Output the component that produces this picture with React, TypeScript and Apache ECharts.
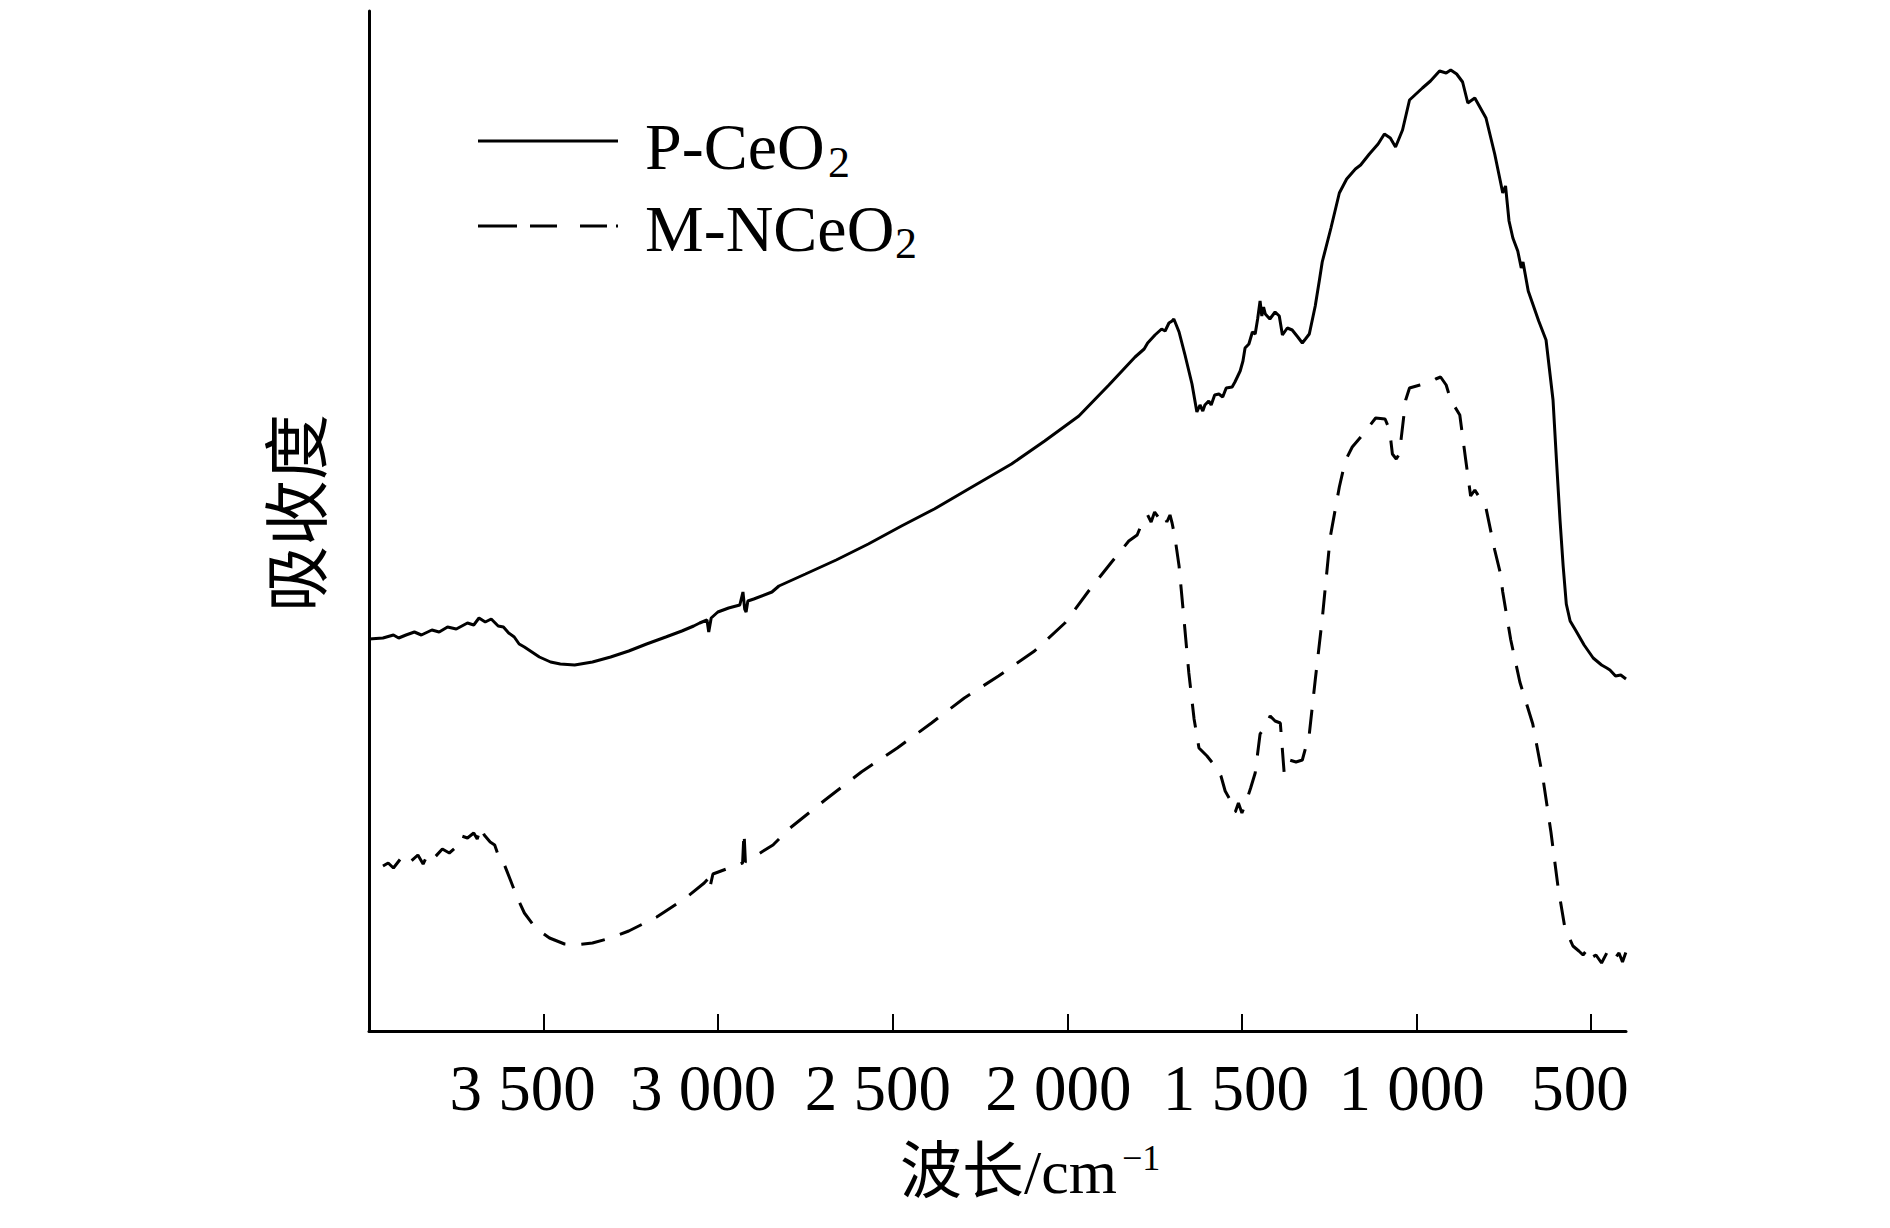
import React, { useEffect, useRef } from "react";
import * as echarts from "echarts";

// x tick values (cm^-1)
const tickValues = [3500, 3000, 2500, 2000, 1500, 1000, 500];

// P-CeO2 : [wavenumber, absorbance (arb.)]
const pCeO2: number[][] = [
  [4000, 39.2], [3960, 39.3], [3930, 39.6], [3915, 39.3], [3894, 39.6], [3870, 39.9], [3850, 39.6],
  [3820, 40.1], [3799, 39.9], [3775, 40.4], [3750, 40.2], [3718, 40.8], [3700, 40.6], [3685, 41.3],
  [3667, 40.9], [3650, 41.2], [3630, 40.5], [3615, 40.4], [3600, 39.8], [3584, 39.4], [3570, 38.7],
  [3555, 38.4], [3512, 37.4], [3480, 36.9], [3452, 36.7], [3411, 36.6], [3360, 36.9], [3308, 37.4],
  [3256, 38.0], [3205, 38.7], [3150, 39.4], [3104, 40.0], [3070, 40.5], [3053, 40.8], [3032, 41.1],
  [3027, 39.9], [3020, 41.3], [3001, 41.9], [2970, 42.3], [2938, 42.6], [2929, 43.9], [2924, 42.2],
  [2920, 41.9], [2915, 43.0], [2898, 43.2], [2846, 43.9], [2826, 44.5], [2750, 45.7], [2662, 47.1],
  [2570, 48.7], [2475, 50.5], [2381, 52.2], [2283, 54.2], [2160, 56.7], [2065, 59.0], [1967, 61.5],
  [1881, 64.6], [1806, 67.4], [1780, 68.2], [1770, 68.8], [1749, 69.6], [1730, 70.2], [1720, 70.0],
  [1709, 70.8], [1700, 71.0], [1695, 71.2], [1688, 70.6], [1680, 69.9], [1663, 67.6], [1643, 64.7],
  [1629, 61.9], [1620, 62.6], [1612, 62.0], [1606, 62.6], [1595, 63.0], [1588, 62.6], [1578, 63.6],
  [1566, 63.7], [1555, 63.4], [1545, 64.3], [1528, 64.4], [1520, 64.9], [1505, 66.0], [1497, 67.0],
  [1491, 68.3], [1480, 68.7], [1470, 69.9], [1462, 69.7], [1455, 71.2], [1448, 73.0], [1443, 71.5],
  [1438, 72.4], [1433, 71.7], [1420, 71.2], [1405, 71.9], [1393, 71.5], [1384, 69.6], [1370, 70.3],
  [1356, 70.1], [1340, 69.4], [1327, 68.8], [1318, 69.2], [1307, 69.7], [1290, 72.5], [1278, 75.1],
  [1270, 76.9], [1245, 80.3], [1221, 83.8], [1200, 85.2], [1175, 86.2], [1160, 86.6], [1135, 87.7],
  [1110, 88.7], [1092, 89.7], [1075, 89.3], [1060, 88.4], [1040, 90.1], [1020, 93.1], [983, 94.3],
  [960, 95.0], [934, 96.0], [915, 95.8], [902, 96.1], [885, 95.7], [868, 94.9], [853, 92.8],
  [833, 93.3], [801, 91.3], [776, 87.7], [760, 85.0], [753, 83.8], [745, 84.5], [735, 81.0],
  [724, 79.3], [710, 78.0], [700, 76.3], [695, 76.9], [680, 74.0], [667, 72.7], [650, 71.0],
  [629, 69.1], [609, 63.1], [599, 57.0], [589, 51.1], [580, 46.5], [571, 42.7], [560, 41.0],
  [543, 40.0], [520, 38.6], [494, 37.3], [470, 36.6], [455, 36.3], [446, 36.1], [430, 35.5],
  [415, 35.6], [400, 35.2],
];

// M-NCeO2 : [wavenumber, absorbance (arb.)]
const mNCeO2: number[][] = [
  [3960, 16.5], [3945, 16.8], [3930, 16.3], [3910, 17.2], [3895, 16.6], [3882, 16.9], [3860, 17.6],
  [3845, 16.7], [3830, 17.8], [3811, 17.4], [3790, 18.2], [3770, 17.8], [3750, 18.4], [3735, 19.5],
  [3718, 19.3], [3700, 19.8], [3690, 19.2], [3680, 20.4], [3670, 19.6], [3653, 18.9], [3640, 18.6],
  [3630, 17.6], [3621, 17.4], [3595, 15.1], [3575, 13.3], [3555, 11.8], [3523, 10.3], [3483, 9.3],
  [3440, 8.7], [3411, 8.6], [3360, 8.8], [3308, 9.3], [3256, 10.0], [3176, 11.4], [3093, 13.3],
  [3040, 14.8], [3027, 15.3], [3024, 14.3], [3015, 15.7], [2961, 16.4], [2930, 16.8], [2926, 19.9],
  [2922, 16.9], [2889, 17.6], [2843, 18.6], [2794, 20.3], [2694, 23.1], [2590, 25.9], [2487, 28.3],
  [2389, 30.8], [2295, 33.3], [2197, 35.5], [2094, 38.0], [2007, 40.8], [1939, 44.0], [1873, 46.9],
  [1824, 49.0], [1800, 49.6], [1786, 50.8], [1770, 51.6], [1760, 50.9], [1750, 51.9], [1738, 51.3],
  [1725, 51.8], [1715, 50.9], [1706, 51.6], [1700, 50.8], [1692, 49.4], [1680, 46.5], [1666, 41.2],
  [1652, 35.8], [1637, 31.2], [1623, 28.3], [1600, 27.5], [1577, 26.5], [1560, 25.5], [1548, 24.0],
  [1535, 23.2], [1525, 22.0], [1519, 21.9], [1510, 22.8], [1500, 21.8], [1491, 22.6], [1475, 24.3],
  [1462, 25.8], [1448, 29.7], [1435, 30.4], [1419, 31.5], [1405, 31.0], [1390, 30.8], [1379, 25.8],
  [1364, 27.1], [1345, 26.9], [1327, 27.1], [1307, 29.7], [1290, 35.1], [1270, 41.2], [1247, 49.4],
  [1221, 54.4], [1204, 57.0], [1184, 58.4], [1150, 59.8], [1117, 61.3], [1090, 61.2], [1077, 60.1],
  [1069, 57.7], [1058, 57.2], [1049, 57.7], [1031, 63.1], [1020, 64.3], [990, 64.6], [960, 64.9],
  [945, 65.2], [931, 65.4], [915, 64.6], [902, 63.1], [876, 61.6], [859, 57.1], [845, 53.5],
  [833, 54.1], [801, 52.3], [776, 48.1], [760, 45.8], [753, 43.9], [730, 39.1], [704, 34.9],
  [667, 30.7], [638, 25.3], [615, 19.9], [595, 14.5], [575, 10.3], [552, 8.5], [535, 8.0],
  [523, 7.6], [510, 8.2], [500, 7.3], [486, 7.6], [470, 6.8], [455, 7.8], [437, 7.0], [420, 7.8],
  [410, 6.9], [400, 7.9],
];

const seriesNames = ["P-CeO2", "M-NCeO2"];

const SERIF = "'Liberation Serif', 'Times New Roman', 'Noto Sans CJK SC', serif";
const CJK = "'Noto Sans CJK SC', 'Liberation Serif', sans-serif";

// small horizontal nudges of the tick labels, as in the reference [padLeft, padRight]
const labelNudge: Record<number, number[]> = {
  3500: [0, 42], 3000: [0, 30], 2500: [0, 30], 2000: [0, 18], 1500: [0, 12], 1000: [0, 10], 500: [0, 22],
};

function fmtTick(v: number): string {
  const s = String(v);
  if (s.length > 3) return s.slice(0, s.length - 3) + " " + s.slice(s.length - 3);
  return s;
}

export default function App() {
  const ref = useRef<HTMLDivElement>(null);

  useEffect(() => {
    if (!ref.current) return;
    const chart = echarts.init(ref.current, null, { renderer: "svg" });

    const rich: Record<string, any> = {};
    tickValues.forEach((v) => {
      const n = labelNudge[v] || [0, 0];
      rich["l" + v] = {
        fontSize: 65,
        fontFamily: SERIF,
        color: "#000",
        padding: [0, n[1], 0, n[0]],
      };
    });

    const option: any = {
      animation: false,
      backgroundColor: "#fff",
      grid: { left: 369, right: 264, top: 11, bottom: 197, containLabel: false },
      xAxis: {
        type: "value",
        inverse: true,
        min: 400,
        max: 4000,
        axisLine: { show: true, onZero: false, lineStyle: { color: "#000", width: 3 } },
        axisTick: {
          show: true,
          inside: true,
          length: 17,
          customValues: tickValues,
          lineStyle: { color: "#000", width: 2 },
        },
        axisLabel: {
          show: true,
          customValues: tickValues,
          margin: 24,
          fontSize: 65,
          fontFamily: SERIF,
          color: "#000",
          formatter: (v: number) => `{l${v}|${fmtTick(v)}}`,
          rich,
        },
        splitLine: { show: false },
      },
      yAxis: {
        type: "value",
        min: 0,
        max: 102,
        axisLine: { show: true, onZero: false, lineStyle: { color: "#000", width: 3 } },
        axisTick: { show: false },
        axisLabel: { show: false },
        splitLine: { show: false },
      },
      series: [
        {
          name: seriesNames[0],
          type: "line",
          data: pCeO2,
          showSymbol: false,
          symbol: "none",
          lineStyle: { color: "#000", width: 3 },
        },
        {
          name: seriesNames[1],
          type: "line",
          data: mNCeO2,
          showSymbol: false,
          symbol: "none",
          lineStyle: { color: "#000", width: 3, type: [24, 16] },
        },
      ],
      graphic: [
        // legend
        {
          type: "line",
          shape: { x1: 478, y1: 141, x2: 618, y2: 141 },
          style: { stroke: "#000", lineWidth: 3 },
        },
        {
          type: "text",
          x: 645,
          y: 146,
          style: { text: "P-CeO", fontSize: 66, fontFamily: SERIF, fill: "#000", align: "left", verticalAlign: "middle" },
        },
        {
          type: "text",
          x: 828,
          y: 162,
          style: { text: "2", fontSize: 44, fontFamily: SERIF, fill: "#000", align: "left", verticalAlign: "middle" },
        },
        {
          type: "line",
          shape: { x1: 478, y1: 226, x2: 618, y2: 226 },
          style: { stroke: "#000", lineWidth: 3, lineDash: [39, 13, 27, 23, 27, 9, 2, 100] },
        },
        {
          type: "text",
          x: 645,
          y: 228,
          style: { text: "M-NCeO", fontSize: 66, fontFamily: SERIF, fill: "#000", align: "left", verticalAlign: "middle" },
        },
        {
          type: "text",
          x: 895,
          y: 243,
          style: { text: "2", fontSize: 44, fontFamily: SERIF, fill: "#000", align: "left", verticalAlign: "middle" },
        },
        // y axis name
        {
          type: "text",
          x: 292,
          y: 513,
          rotation: Math.PI / 2,
          style: { text: "吸收度", fontSize: 66, fontFamily: CJK, fill: "#000", align: "center", verticalAlign: "middle" },
        },
        // x axis name
        {
          type: "text",
          x: 900,
          y: 1172,
          style: { text: "波长/cm", fontSize: 62, fontFamily: SERIF, fill: "#000", align: "left", verticalAlign: "middle" },
        },
        {
          type: "text",
          x: 1122,
          y: 1158,
          style: { text: "−1", fontSize: 36, fontFamily: SERIF, fill: "#000", align: "left", verticalAlign: "middle" },
        },
      ],
    };

    chart.setOption(option);
    return () => chart.dispose();
  }, []);

  return (
    <div
      ref={ref}
      style={{ position: "absolute", left: 0, top: 0, width: 1890, height: 1228, background: "#fff" }}
    />
  );
}
